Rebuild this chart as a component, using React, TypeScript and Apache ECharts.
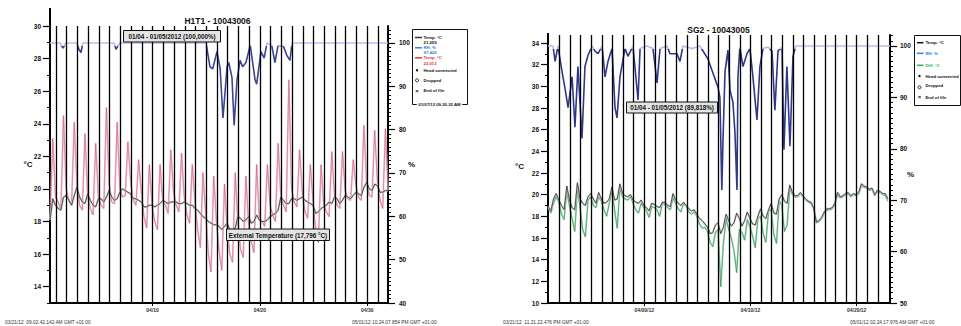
import React, { useEffect, useRef } from "react";
import * as echarts from "echarts";

const FONT = '"Liberation Sans", Arial, Helvetica, sans-serif';

// ---------- Left panel (H1T1 - 10043006) ----------
// samples every 6 h (0.25 day), first sample at day -0.55 (day 0 = 04/01 00:00)
const leftStart = -0.55;
const sampleStep = 0.25;
const leftInternalTemp = [
  18.1, 19.4, 19.0,
  18.8, 18.7, 19.5, 19.6,
  19.3, 19.0, 19.6, 20.1,
  19.5, 19.2, 19.1, 19.7,
  19.3, 19.0, 18.9, 19.4,
  19.4, 19.2, 19.5, 19.9,
  19.5, 19.3, 19.4, 19.8,
  20.0, 19.9, 19.8, 19.7,
  19.4, 19.4, 19.3, 19.2,
  18.9, 18.9, 19.0, 19.0,
  18.9, 19.0, 19.1, 19.3,
  19.2, 19.1, 19.2, 19.2,
  19.2, 19.1, 19.1, 19.2,
  19.1, 19.0, 19.0, 18.8,
  18.7, 18.5, 18.3, 18.2,
  18.0, 17.9, 17.8, 17.8,
  17.7, 17.5, 17.7, 17.9,
  17.5, 17.5, 17.6, 18.3,
  18.2, 18.0, 18.1, 18.3,
  17.9, 18.0, 18.4, 18.1,
  18.0, 18.0, 18.1, 18.3,
  18.4, 18.5, 18.7, 19.5,
  19.3, 19.1, 19.1, 19.4,
  19.4, 19.3, 19.4, 19.5,
  19.3, 19.2, 19.1, 19.0,
  18.5, 18.6, 18.8, 18.9,
  19.0, 19.2, 19.1, 19.5,
  19.4, 19.1, 19.3, 19.6,
  19.5, 19.4, 19.6, 19.8,
  19.7, 19.6, 20.1, 20.4,
  20.0, 19.9, 20.3, 20.2,
  19.8, 19.8, 19.9, 19.9,
];
const leftExternalTemp = [
  18.2, 23.1, 19.5,
  19.2, 18.7, 24.5, 20.0,
  19.3, 19.0, 24.1, 20.2,
  19.0, 18.7, 23.4, 19.6,
  18.8, 18.4, 22.8, 19.5,
  19.0, 18.8, 25.0, 20.3,
  19.2, 19.1, 24.1, 20.0,
  19.5, 19.6, 22.9, 20.5,
  19.3, 19.0, 21.8, 19.8,
  18.3, 17.6, 21.5, 19.0,
  18.0, 17.5, 21.5, 19.2,
  19.0, 18.5, 22.4, 19.8,
  19.0, 18.6, 22.2, 19.5,
  18.4, 17.9, 21.5, 19.2,
  17.5, 16.4, 21.0, 18.5,
  16.0, 14.9, 20.8, 18.0,
  16.2, 15.0, 20.3, 17.5,
  16.0, 15.5, 21.0, 18.0,
  16.3, 15.8, 20.8, 17.8,
  16.8, 16.1, 21.5, 18.2,
  18.0, 17.7, 21.5, 19.0,
  18.4, 18.0, 22.8, 19.5,
  19.0, 18.6, 26.7, 20.0,
  19.2, 18.9, 22.4, 19.8,
  18.6, 18.2, 21.5, 19.3,
  17.5, 16.7, 21.5, 19.0,
  18.6, 18.3, 22.3, 19.6,
  19.0, 18.8, 22.3, 19.9,
  19.4, 19.3, 21.8, 20.2,
  19.5, 19.3, 23.9, 20.3,
  19.6, 19.5, 23.6, 20.5,
  19.3, 18.8, 23.7, 19.9,
];
const leftRhDays = [
  -0.56, 0.37, 0.65, 0.93, 1.96, 2.14, 2.33, 2.5, 5.4, 5.6, 5.8, 5.96,
  13.98, 14.35, 14.6, 15.0, 15.3, 15.56, 15.94, 16.1, 16.4, 16.6, 16.87,
  17.15, 17.4, 17.7, 18.1, 18.55, 18.7, 19.1, 19.4, 19.66, 20.1, 20.4,
  20.7, 21.2, 21.5, 21.8, 22.0, 30.94,
];
const leftRhValues = [
  100, 100, 98.8, 100, 100, 98.5, 97.8, 100, 100, 98.5, 99.5, 100,
  100, 94.5, 94, 98, 94, 82.7, 94.5, 95.5, 92, 81, 91.5,
  96, 94.5, 95.5, 99.5, 91.5, 90.5, 98, 96.5, 100, 99.5, 95.5,
  99.5, 99.2, 97.2, 96, 100, 100,
];
const leftDayLines = Array.from({ length: 31 }, (_, i) => i);
const leftXTicks = [9, 19, 29];
const leftXLabels = ["04/10", "04/20", "04/30"];
const leftTempTicks = [14, 16, 18, 20, 22, 24, 26, 28, 30];
const leftTempMinor = Array.from({ length: 18 }, (_, i) => 13 + i);
const leftRhTicks = [40, 50, 60, 70, 80, 90, 100];
const leftRhMinor = Array.from({ length: 64 }, (_, i) => 40 + i);

// ---------- Right panel (SG2 - 10043005) ----------
const rightStart = -9.05;
const rightInternalTemp = [
  18.9,
  18.5, 19.6, 20.1, 19.5,
  19.0, 18.6, 20.8, 19.5,
  18.8, 18.6, 21.1, 19.6,
  19.2, 19.0, 19.8, 20.1,
  19.6, 19.2, 20.2, 19.6,
  19.2, 19.3, 19.6, 20.7,
  19.5, 19.6, 21.0, 20.1,
  19.9, 19.8, 20.0, 19.5,
  19.3, 19.2, 19.5, 19.0,
  18.8, 18.5, 19.2, 19.1,
  18.9, 18.8, 19.3, 19.3,
  19.0, 18.9, 20.1, 19.5,
  19.2, 19.0, 19.3, 19.0,
  18.7, 18.5, 18.6, 18.2,
  17.8, 17.6, 17.3, 17.0,
  16.4, 16.5, 17.2, 17.4,
  16.4, 17.0, 18.2, 17.6,
  17.1, 17.4, 18.3, 17.8,
  17.1, 17.6, 18.4, 17.8,
  17.3, 17.2, 18.0, 18.7,
  18.0, 17.8, 18.6, 19.2,
  18.3, 18.2, 19.6, 20.0,
  19.4, 19.2, 20.9, 20.2,
  19.9, 19.9, 20.2, 19.9,
  19.6, 19.4, 19.3, 18.8,
  17.5, 17.6, 17.9, 18.4,
  18.7, 18.7, 18.8, 19.2,
  20.2, 19.8, 19.9, 20.1,
  20.2, 19.9, 20.1, 20.0,
  20.2, 21.0, 20.8, 20.7,
  20.5, 20.6, 20.0, 20.4,
  20.3, 20.1, 20.1, 19.6,
];
const rightDiffTemp = [
  18.8,
  18.3, 19.2, 19.8, 19.3,
  18.2, 17.7, 20.3, 19.0,
  17.8, 16.6, 20.6, 18.8,
  16.8, 16.1, 19.5, 19.8,
  19.0, 18.8, 19.8, 19.4,
  18.6, 18.0, 19.2, 20.3,
  18.6, 16.9, 20.6, 19.8,
  19.6, 19.5, 19.8, 19.2,
  18.6, 18.3, 19.2, 18.8,
  18.5, 17.9, 18.9, 18.8,
  18.6, 18.0, 19.2, 19.1,
  18.8, 18.6, 19.7, 19.2,
  18.7, 18.4, 19.2, 18.9,
  18.4, 18.2, 18.4, 18.0,
  17.3, 16.9, 17.0, 16.6,
  15.6, 15.2, 16.5, 16.8,
  11.5, 15.5, 17.8, 16.8,
  16.0, 14.8, 12.8, 16.8,
  16.5, 15.8, 17.7, 17.0,
  16.2, 15.1, 17.8, 18.0,
  16.4, 15.6, 18.5, 18.6,
  16.3, 15.5, 19.5, 19.0,
  16.6, 17.2, 20.6, 20.0,
  19.8, 19.8, 20.1, 19.8,
  19.5, 19.3, 19.2, 18.7,
  17.4, 17.5, 17.8, 18.3,
  18.6, 18.6, 18.7, 19.1,
  20.0, 19.7, 19.8, 20.0,
  20.1, 19.8, 20.0, 19.9,
  20.1, 20.8, 20.7, 20.6,
  20.4, 20.5, 19.9, 20.3,
  20.2, 20.0, 19.9, 19.4,
];
const rightRhDays = [
  -9.07, -8.6, -8.4, -8.13, -7.75, -7.47, -7.18, -6.8, -6.53, -6.25, -5.87,
  -5.59, -5.3, -4.92, -4.64, -4.36, -3.98, -3.7, -3.42, -3.04, -2.76, -2.57,
  -2.29, -1.82, -1.54, -1.07, -0.59, -0.4, 0.25, 0.82, 1.2, 1.48, 2.14, 2.42,
  3.08, 3.36, 3.64, 4.49, 5.24, 5.99, 6.37, 6.94, 7.12, 7.3, 7.41, 7.6, 7.88,
  8.07, 8.35, 8.54, 8.73, 8.82, 9.0, 9.29, 9.67, 9.95, 10.23, 10.61, 10.89,
  11.18, 11.65, 12.03, 12.3, 12.59, 12.97, 13.15, 13.43, 13.72, 14.0, 14.27,
  23.14,
];
const rightRhValues = [
  100, 100, 97, 100, 95, 91.8, 88, 94, 84.2, 96, 82,
  96, 98.2, 100, 99, 98.5, 100, 94, 97, 99.5, 88, 86,
  94, 99.5, 98, 100, 89.5, 99.5, 100, 99.5, 92.8, 99.5, 100, 98.5,
  98.5, 97, 100, 99.5, 100, 97.5, 95.3, 92, 90, 72, 81.5, 95, 99.2,
  91.4, 89, 83, 72, 94, 99.8, 96, 98.5, 99.5, 94, 85.6, 96,
  99.5, 99.8, 99, 87.5, 99, 99.8, 79.8, 96, 80.5, 98, 100,
  100,
];
const rightDayLines = Array.from({ length: 31 }, (_, i) => i - 8);
const rightXTicks = [0, 10, 20];
const rightXLabels = ["04/00/12", "04/10/12", "04/20/12"];
const rightTempTicks = [10, 12, 14, 16, 18, 20, 22, 24, 26, 28, 30, 32, 34];
const rightTempMinor = Array.from({ length: 25 }, (_, i) => 10 + i);
const rightRhTicks = [50, 60, 70, 80, 90, 100];
const rightRhMinor = Array.from({ length: 53 }, (_, i) => 50 + i);

// ---------- helpers ----------
const sampled = (start: number, vals: number[]) =>
  vals.map((v, i) => [Number((start + i * sampleStep).toFixed(3)), v]);
const paired = (xs: number[], ys: number[]) => xs.map((x, i) => [x, ys[i]]);

function xAxisCfg(gridIndex: number, min: number, max: number, ticks: number[], labels: string[]) {
  return {
    type: "value",
    gridIndex,
    min,
    max,
    axisLine: { show: true, onZero: false, lineStyle: { color: "#000", width: 2 } },
    axisTick: { show: true, customValues: ticks, length: 3, lineStyle: { color: "#000", width: 1 } },
    axisLabel: {
      show: true,
      customValues: ticks,
      margin: 4,
      fontSize: 5,
      fontWeight: "bold",
      color: "#333",
      fontFamily: FONT,
      formatter: (v: number) => {
        const i = ticks.findIndex((t) => Math.abs(t - v) < 1e-6);
        return i >= 0 ? labels[i] : "";
      },
    },
    splitLine: { show: false },
  };
}

function majorY(gridIndex: number, position: string, min: number, max: number, ticks: number[], margin: number) {
  return {
    type: "value",
    gridIndex,
    position,
    min,
    max,
    axisLine: { show: true, onZero: false, lineStyle: { color: "#000", width: 2 } },
    axisTick: { show: true, customValues: ticks, length: 7, lineStyle: { color: "#000", width: 1.2 } },
    axisLabel: {
      show: true,
      customValues: ticks,
      margin,
      fontSize: 6.5,
      fontWeight: "bold",
      color: "#111",
      fontFamily: FONT,
    },
    splitLine: { show: false },
  };
}

function minorY(gridIndex: number, position: string, min: number, max: number, ticks: number[]) {
  return {
    type: "value",
    gridIndex,
    position,
    min,
    max,
    axisLine: { show: false, onZero: false },
    axisTick: { show: true, customValues: ticks, length: 3, lineStyle: { color: "#000", width: 1 } },
    axisLabel: { show: false },
    splitLine: { show: false },
  };
}

function lineSeries(xi: number, yi: number, data: number[][], color: string | null, width: number, extra: any = {}) {
  const lineStyle: any = { width };
  if (color) lineStyle.color = color;
  return {
    type: "line",
    xAxisIndex: xi,
    yAxisIndex: yi,
    data,
    symbol: "none",
    showSymbol: false,
    silent: true,
    lineStyle,
    animation: false,
    ...extra,
  };
}

function dayLinesMark(days: number[]) {
  return {
    markLine: {
      silent: true,
      symbol: ["none", "none"],
      label: { show: false },
      animation: false,
      lineStyle: { color: "#000", width: 1.3, type: "solid" },
      emphasis: { disabled: true },
      data: days.map((d) => ({ xAxis: d })),
    },
  };
}

function txt(text: string, x: number, y: number, size: number, opts: any = {}) {
  return {
    type: "text",
    x,
    y,
    silent: true,
    z: 100,
    style: {
      text,
      fill: opts.fill || "#111",
      fontSize: size,
      fontWeight: opts.weight || "bold",
      fontFamily: FONT,
      align: opts.align || "left",
      verticalAlign: "middle",
      textAlign: opts.align || "left",
      textVerticalAlign: "middle",
      backgroundColor: opts.bg,
      padding: opts.bg ? [0, 1.5] : undefined,
    },
  };
}

function box(x: number, y: number, w: number, h: number, fill: string) {
  return {
    type: "rect",
    silent: true,
    z: 99,
    shape: { x, y, width: w, height: h },
    style: { fill, stroke: "#111", lineWidth: 1 },
  };
}

function swatch(x1: number, x2: number, y: number, color: string) {
  return {
    type: "line",
    silent: true,
    z: 100,
    shape: { x1, y1: y, x2, y2: y },
    style: { stroke: color, lineWidth: 1.5 },
  };
}

const rhPieces = (dark: string) => [
  { gte: 0, lte: 99.4, color: dark },
  { gt: 99.4, lte: 200, color: "#b9bde6" },
];

export default function App() {
  const ref = useRef<HTMLDivElement>(null);

  useEffect(() => {
    if (!ref.current) return;
    const chart = echarts.init(ref.current, undefined, { renderer: "svg" });

    const series: any[] = [
      // left panel
      lineSeries(0, 0, sampled(leftStart, leftExternalTemp), "rgba(236,176,196,0.75)", 1.8, dayLinesMark(leftDayLines)),
      lineSeries(0, 0, sampled(leftStart, leftExternalTemp), "rgba(185,30,70,0.5)", 0.7),
      lineSeries(0, 0, sampled(leftStart, leftInternalTemp), "#cacaca", 2),
      lineSeries(0, 0, sampled(leftStart, leftInternalTemp), "#333", 0.8),
      lineSeries(0, 1, paired(leftRhDays, leftRhValues), null, 1.6),
      // right panel
      lineSeries(1, 4, sampled(rightStart, rightDiffTemp), "rgba(160,214,178,0.8)", 1.8, dayLinesMark(rightDayLines)),
      lineSeries(1, 4, sampled(rightStart, rightDiffTemp), "rgba(35,140,70,0.75)", 0.8),
      lineSeries(1, 4, sampled(rightStart, rightInternalTemp), "#cacaca", 1.8),
      lineSeries(1, 4, sampled(rightStart, rightInternalTemp), "#333", 0.8),
      lineSeries(1, 5, paired(rightRhDays, rightRhValues), null, 1.6),
    ];

    const option: any = {
      animation: false,
      backgroundColor: "#fff",
      textStyle: { fontFamily: FONT },
      grid: [
        { left: 50, right: 961 - 388, top: 26, bottom: 23, containLabel: false },
        { left: 548, right: 961 - 890, top: 35, bottom: 23, containLabel: false },
      ],
      xAxis: [
        xAxisCfg(0, -0.56, 30.94, leftXTicks, leftXLabels),
        xAxisCfg(1, -9.07, 23.14, rightXTicks, rightXLabels),
      ],
      yAxis: [
        majorY(0, "left", 13, 30, leftTempTicks, 9),
        majorY(0, "right", 40, 103.92, leftRhTicks, 11),
        minorY(0, "left", 13, 30, leftTempMinor),
        minorY(0, "right", 40, 103.92, leftRhMinor),
        majorY(1, "left", 10, 34.74, rightTempTicks, 9),
        majorY(1, "right", 50, 102.14, rightRhTicks, 10),
        minorY(1, "left", 10, 34.74, rightTempMinor),
        minorY(1, "right", 50, 102.14, rightRhMinor),
      ],
      visualMap: [
        {
          type: "piecewise",
          show: false,
          seriesIndex: 4,
          dimension: 1,
          pieces: rhPieces("#3c4592"),
          outOfRange: { color: "#b9bde6" },
        },
        {
          type: "piecewise",
          show: false,
          seriesIndex: 9,
          dimension: 1,
          pieces: rhPieces("#2e3788"),
          outOfRange: { color: "#b9bde6" },
        },
      ],
      series,
      graphic: [
        // axis extensions
        { type: "line", silent: true, shape: { x1: 50, y1: 8, x2: 50, y2: 27 }, style: { stroke: "#000", lineWidth: 2 } },
        { type: "line", silent: true, shape: { x1: 548, y1: 33, x2: 548, y2: 36 }, style: { stroke: "#000", lineWidth: 2 } },
        // titles
        txt("H1T1 - 10043006", 217.5, 21, 8.5, { align: "center" }),
        txt("SG2 - 10043005", 718.5, 29.5, 8.5, { align: "center" }),
        // axis names
        txt("°C", 28, 164, 8, { align: "center" }),
        txt("%", 411.5, 164, 8, { align: "center" }),
        txt("°C", 519.5, 166, 8, { align: "center" }),
        txt("%", 910.5, 174, 8, { align: "center" }),
        // annotation boxes
        box(123.5, 30.5, 97, 11.5, "#e4e4e4"),
        txt("01/04 - 01/05/2012 (100,000%)", 172, 36.5, 6.3, { align: "center" }),
        box(226.5, 229, 103, 11.5, "#e4e4e4"),
        txt("External Temperature (17,796 °C)", 278, 235, 6.3, { align: "center" }),
        box(626.5, 102, 91, 11, "#e4e4e4"),
        txt("01/04 - 01/05/2012 (89,818%)", 672, 107.5, 6.3, { align: "center" }),
        // left legend
        box(412.5, 29.5, 55, 75, "#fff"),
        swatch(415, 422, 37.5, "#333"),
        txt("Temp. °C", 423.5, 37.5, 4.3),
        txt("21,059", 423.5, 42, 4.3),
        swatch(415, 422, 47.8, "#3a7fd0"),
        txt("RH. %", 423.5, 47.8, 4.3, { fill: "#2f7ed6" }),
        txt("97,420", 423.5, 52.3, 4.3, { fill: "#2f7ed6" }),
        swatch(415, 422, 57.8, "#e8302a"),
        txt("Temp. °C", 423.5, 57.8, 4.3, { fill: "#e8302a" }),
        txt("22,013", 423.5, 63, 4.3, { fill: "#e8302a" }),
        { type: "circle", silent: true, z: 100, shape: { cx: 417, cy: 70.3, r: 1.2 }, style: { fill: "#111" } },
        txt("Head connected", 423.5, 70.3, 4.3),
        { type: "circle", silent: true, z: 100, shape: { cx: 417, cy: 80.3, r: 1.5 }, style: { fill: "#fff", stroke: "#111", lineWidth: 0.9 } },
        txt("Dropped", 423.5, 80, 4.3),
        txt("×", 417, 90.7, 6, { align: "center" }),
        txt("End of file", 423.5, 90.7, 4.3),
        txt("01/07/12 09.20.32 AM", 439.5, 104.5, 4.3, { align: "center", bg: "#fff" }),
        // right legend
        box(914.5, 35.5, 46, 70, "#fff"),
        swatch(917, 923.5, 42.7, "#111"),
        txt("Temp. °C", 925.5, 42.7, 4.3),
        swatch(917, 923.5, 53.3, "#3a7fd0"),
        txt("RH. %", 925.5, 53.3, 4.3, { fill: "#2f7ed6" }),
        swatch(917, 923.5, 65.3, "#2fb35a"),
        txt("Diff. °C", 925.5, 65.3, 4.3, { fill: "#2fb35a" }),
        { type: "circle", silent: true, z: 100, shape: { cx: 919.5, cy: 76, r: 1.2 }, style: { fill: "#111" } },
        txt("Head connected", 925.5, 76, 4.3),
        { type: "circle", silent: true, z: 100, shape: { cx: 919.5, cy: 87.3, r: 1.5 }, style: { fill: "#fff", stroke: "#111", lineWidth: 0.9 } },
        txt("Dropped", 925.5, 85.3, 4.3),
        txt("×", 919.5, 97.3, 6, { align: "center" }),
        txt("End of file", 925.5, 97.3, 4.3),
        // footers
        txt("03/21/12  09.02.42.142 AM GMT +01:00", 5, 322.7, 4.8, { weight: "normal", fill: "#333" }),
        txt("05/01/12 10.24.07.854 PM GMT +01:00", 352, 322.7, 4.8, { weight: "normal", fill: "#333" }),
        txt("03/21/12  11.21.22.476 PM GMT +01:00", 503, 322.7, 4.8, { weight: "normal", fill: "#333" }),
        txt("05/01/12 02.24.17.976 AM GMT +01:00", 850, 322.7, 4.8, { weight: "normal", fill: "#333" }),
      ],
    };

    chart.setOption(option);
    return () => chart.dispose();
  }, []);

  return (
    <div
      ref={ref}
      style={{ position: "absolute", left: 0, top: 0, width: 961, height: 326, background: "#fff" }}
    />
  );
}
